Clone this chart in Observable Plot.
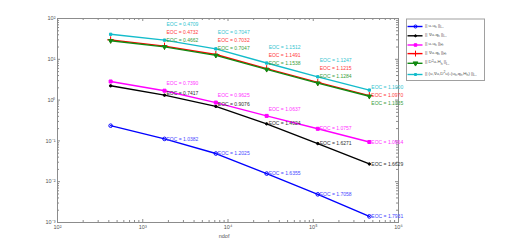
<!DOCTYPE html>
<html><head><meta charset="utf-8">
<script src="https://cdn.jsdelivr.net/npm/d3@7"></script>
<script src="https://cdn.jsdelivr.net/npm/@observablehq/plot@0.6"></script>
<style>body{margin:0;background:#fff} #chart{position:relative;width:527px;height:251px}</style>
</head><body><div id="chart"></div>
<script>
// ---- data ----
const ndof       = [420, 1800, 7200, 28400, 113000, 455000];
const errL2      = [0.236, 0.112, 0.049, 0.0158, 0.0049, 0.00141];
const errGradL2  = [2.24, 1.32, 0.70, 0.262, 0.086, 0.0272];
const errH1      = [2.86, 1.70, 0.87, 0.41, 0.198, 0.094];
const errGradH1  = [30.0, 21.0, 13.1, 5.9, 2.72, 1.29];
const errHessL2  = [28.5, 20.2, 12.5, 5.65, 2.60, 1.24];
const errTotal   = [41.0, 29.5, 18.0, 8.1, 3.72, 1.76];
const eocL2      = ["1.0382", "1.2025", "1.6355", "1.7058", "1.7931"];
const eocGradL2  = ["0.7417", "0.9076", "1.4024", "1.6271", "1.6629"];
const eocH1      = ["0.7390", "0.9625", "1.0637", "1.0757", "1.0664"];
const eocGradH1  = ["0.4732", "0.7032", "1.1491", "1.1215", "1.0970"];
const eocHessL2  = ["0.4662", "0.7047", "1.1538", "1.1284", "1.1035"];
const eocTotal   = ["0.4709", "0.7047", "1.1512", "1.1247", "1.1000"];
const xTickValues = [1e2, 1e3, 1e4, 1e5, 1e6];
const yTickValues = [1e-3, 1e-2, 1e-1, 1e0, 1e1, 1e2];
const xLabel = "ndof";
const legendLabels = [
  ["|| u-u", {sub: "h"}, " ||", {sub: "L₂"}],
  ["|| ∇u-q", {sub: "h"}, " ||", {sub: "L₂"}],
  ["|| u-u", {sub: "h"}, " ||", {sub: "H¹"}],
  ["|| ∇u-q", {sub: "h"}, " ||", {sub: "H¹"}],
  ["|| D", {sup: "2"}, "u-H", {sub: "h"}, " ||", {sub: "L₂"}],
  ["|| (u,∇u,D", {sup: "2"}, "u)-(u", {sub: "h"}, ",q", {sub: "h"}, ",H", {sub: "h"}, ") ||", {sub: "L₂"}]
];

// ---- series styling ----
const series = [
  {key: "L2",     err: errL2,     eoc: eocL2,     color: "#0000ff", text: "#4646ff", symbol: "circle",    r: 1.8, fill: "none"},
  {key: "GradL2", err: errGradL2, eoc: eocGradL2, color: "#000000", text: "#303030", symbol: "circle",    r: 1.2, fill: "#000"},
  {key: "H1",     err: errH1,     eoc: eocH1,     color: "#ff00ff", text: "#ff33ff", symbol: "square",    r: 1.7, fill: "#ff00ff"},
  {key: "GradH1", err: errGradH1, eoc: eocGradH1, color: "#ff0000", text: "#ff3a3a", symbol: "plus",      r: 2.4, fill: "none"},
  {key: "HessL2", err: errHessL2, eoc: eocHessL2, color: "#118a11", text: "#3a9e3a", symbol: "triangle2", r: 2.1, fill: "#118a11", rotate: 180},
  {key: "Total",  err: errTotal,  eoc: eocTotal,  color: "#13bccb", text: "#33c4d0", symbol: "square",    r: 1.3, fill: "#13bccb"}
];

const pts = [];
series.forEach(s => s.err.forEach((v, i) => pts.push({key: s.key, x: ndof[i], y: v, i})));

// label offsets (pixels)
function labelDy(key, i) {
  if (key === "Total")  return i === 5 ? -3 : -16;
  if (key === "GradH1") return i === 5 ? 5 : -8;
  if (key === "HessL2") return i === 5 ? 13 : 0;
  if (key === "H1")     return i <= 3 ? -7 : 0;
  if (key === "GradL2") return i <= 2 ? -2 : 0;
  return 0;
}
const labels = [];
series.forEach(s => s.eoc.forEach((e, j) => {
  const i = j + 1;
  const anchorKey = (s.key === "GradH1" || s.key === "HessL2") ? "Total" : s.key;
  const base = series.find(t => t.key === anchorKey).err[i];
  labels.push({key: s.key, x: ndof[i], y: base, i, text: "EOC = " + e, dy: labelDy(s.key, i)});
}));

const supMap = {"-": "⁻", "0": "⁰", "1": "¹", "2": "²", "3": "³", "4": "⁴", "5": "⁵", "6": "⁶", "7": "⁷", "8": "⁸", "9": "⁹"};
const fmtPow = d => "10" + String(Math.round(Math.log10(d))).split("").map(c => supMap[c]).join("");

const minor = (lo, hi) => { const out = []; for (let e = lo; e < hi; e++) for (let m = 2; m <= 9; m++) out.push(m * 10 ** e); return out; };
const xMinor = minor(2, 6), yMinor = minor(-3, 2);

const W = 527, H = 251, mL = 57, mR = 129, mT = 18, mB = 29;
const iw = W - mL - mR, ih = H - mT - mB;
const axisColor = "#8c8c8c";

const marks = [
  Plot.frame({stroke: axisColor, strokeWidth: 1}),
  Plot.tickX(xTickValues, {x: d => d, insetTop: ih - 3, stroke: axisColor}),
  Plot.tickX(xTickValues, {x: d => d, insetBottom: ih - 3, stroke: axisColor}),
  Plot.tickX(xMinor, {x: d => d, insetTop: ih - 2, stroke: axisColor}),
  Plot.tickX(xMinor, {x: d => d, insetBottom: ih - 2, stroke: axisColor}),
  Plot.tickY(yTickValues, {y: d => d, insetRight: iw - 3, stroke: axisColor}),
  Plot.tickY(yTickValues, {y: d => d, insetLeft: iw - 3, stroke: axisColor}),
  Plot.tickY(yMinor, {y: d => d, insetRight: iw - 2, stroke: axisColor}),
  Plot.tickY(yMinor, {y: d => d, insetLeft: iw - 2, stroke: axisColor}),
  Plot.axisX({ticks: xTickValues, tickSize: 0, tickPadding: 3, tickFormat: fmtPow, fontSize: 5.5, fill: "#555", label: null}),
  Plot.axisY({ticks: yTickValues, tickSize: 0, tickPadding: 2, tickFormat: fmtPow, fontSize: 5.5, fill: "#555", label: null}),
  Plot.text([xLabel], {x: () => 1e4 * 0.9, frameAnchor: "bottom", dy: 15, text: d => d, fontSize: 5.5, fill: "#555"})
];
series.forEach(s => {
  const d = pts.filter(p => p.key === s.key);
  marks.push(Plot.line(d, {x: "x", y: "y", stroke: s.color, strokeWidth: 1.4}));
  marks.push(Plot.dot(d, {x: "x", y: "y", symbol: s.symbol, r: s.r, stroke: s.color, fill: s.fill, strokeWidth: 1, rotate: s.rotate || 0}));
});
series.forEach(s => {
  const d = labels.filter(l => l.key === s.key);
  const groups = d3.group(d, l => l.dy);
  for (const [dy, g] of groups) marks.push(Plot.text(g, {x: "x", y: "y", text: "text", dy, textAnchor: "start", dx: 2, fontSize: 5, fill: s.text}));
});

const chart = Plot.plot({
  width: W, height: H,
  marginLeft: mL, marginRight: mR, marginTop: mT, marginBottom: mB,
  style: {fontFamily: "'Liberation Sans', Arial, sans-serif", background: "#fff"},
  x: {type: "log", domain: [1e2, 1e6], axis: null},
  y: {type: "log", domain: [1e-3, 1e2], axis: null},
  marks
});
document.getElementById("chart").appendChild(chart);

// ---- legend ----
const svg = d3.select(chart);
const lg = svg.append("g").attr("font-family", "'Liberation Sans', Arial, sans-serif").attr("text-anchor", "start");
const lx = 406, ly = 18.5, lw = 78, lh = 61.5;
lg.append("rect").attr("x", lx + 0.5).attr("y", ly + 0.5).attr("width", lw).attr("height", lh).attr("fill", "#fff").attr("stroke", "#a0a0a0");
const rowY = [26.5, 35.8, 45, 53.6, 63.3, 74.5];
const symFns = {circle: d3.symbolCircle, square: d3.symbolSquare, plus: d3.symbolPlus, triangle2: d3.symbolTriangle};
series.forEach((s, k) => {
  const y = rowY[k];
  lg.append("line").attr("x1", lx + 1.5).attr("x2", lx + 16.5).attr("y1", y).attr("y2", y).attr("stroke", s.color).attr("stroke-width", 1.4);
  const rr = s.r * 0.85;
  lg.append("path").attr("d", d3.symbol(symFns[s.symbol], Math.PI * rr * rr)())
    .attr("transform", `translate(${lx + 9.5},${y}) rotate(${s.rotate || 0})`)
    .attr("fill", s.fill).attr("stroke", s.color).attr("stroke-width", 1);
  const t = lg.append("text").attr("x", lx + 19).attr("y", y).attr("dy", "0.35em").attr("font-size", 4.4).attr("fill", "#555");
  let off = 0;
  legendLabels[k].forEach(seg => {
    if (typeof seg === "string") {
      t.append("tspan").attr("dy", -off).text(seg); off = 0;
    } else if (seg.sub) {
      t.append("tspan").attr("dy", 1.4 - off).attr("font-size", 3.4).text(seg.sub); off = 1.4;
    } else {
      t.append("tspan").attr("dy", -1.6 - off).attr("font-size", 3.4).text(seg.sup); off = -1.6;
    }
  });
});
</script>
</body></html>
